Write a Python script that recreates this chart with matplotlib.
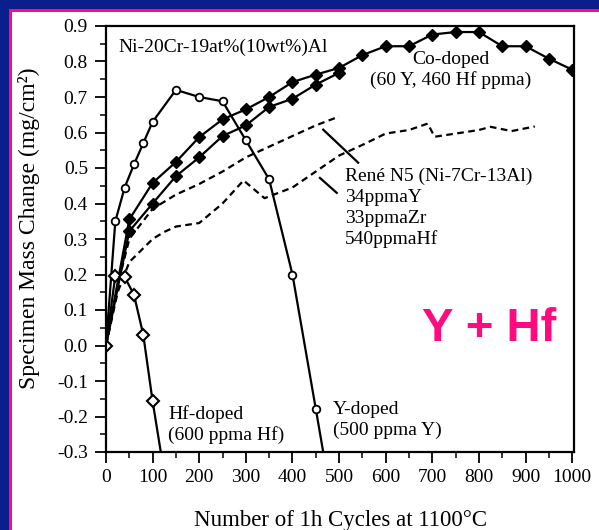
import matplotlib
matplotlib.use('Agg')
import matplotlib.pyplot as plt
from matplotlib.patches import Rectangle
from matplotlib.ticker import MultipleLocator

plt.rcParams['font.family'] = ['Liberation Serif', 'DejaVu Serif']

# Y-doped (open circles)
y_doped_x = [0, 20, 40, 60, 80, 100, 150, 200, 250, 300, 350, 400, 450, 500]
y_doped_y = [0, 0.35, 0.445, 0.51, 0.57, 0.63, 0.72, 0.70, 0.688, 0.578, 0.468, 0.20, -0.178, -0.56]

# Hf-doped (open diamonds)
hf_doped_x = [0, 20, 40, 60, 80, 100, 120]
hf_doped_y = [0, 0.197, 0.193, 0.143, 0.03, -0.157, -0.32]

# Co-doped, two specimens (filled diamonds)
co_a_x = [0, 50, 100, 150, 200, 250, 300, 350, 400, 450, 500, 550, 600, 650,
          700, 750, 800, 850, 900, 950, 1000]
co_a_y = [0, 0.355, 0.458, 0.517, 0.587, 0.637, 0.665, 0.70, 0.742, 0.763, 0.782,
          0.818, 0.843, 0.843, 0.876, 0.883, 0.883, 0.843, 0.843, 0.808, 0.777]
co_b_x = [0, 50, 100, 150, 200, 250, 300, 350, 400, 450, 500]
co_b_y = [0, 0.322, 0.40, 0.477, 0.53, 0.59, 0.62, 0.672, 0.695, 0.735, 0.768]

# Rene N5, two specimens (dashed)
rene_a_x = [0, 25, 50, 100, 150, 200, 250, 300, 350, 400, 450, 500]
rene_a_y = [0, 0.17, 0.30, 0.385, 0.425, 0.455, 0.49, 0.53, 0.56, 0.59, 0.62, 0.645]
rene_b_x = [0, 25, 50, 100, 125, 150, 200, 250, 295, 340, 400, 450, 500, 550, 600,
            650, 690, 705, 750, 800, 825, 870, 920]
rene_b_y = [0, 0.15, 0.235, 0.30, 0.32, 0.335, 0.345, 0.40, 0.465, 0.415, 0.445, 0.49,
            0.535, 0.565, 0.597, 0.607, 0.625, 0.588, 0.597, 0.607, 0.616, 0.604, 0.617]

# leader lines from the Rene N5 label to its two curves
leaders = [((466, 541), (0.608, 0.515)), ((459, 495), (0.472, 0.430))]

navy = '#0b1f8c'
pink = '#ff0a80'

fig = plt.figure(figsize=(5.99, 5.30), dpi=100)
fig.patch.set_facecolor(navy)
fig.add_artist(Rectangle((9 / 599, 0), 1, (530 - 9) / 530, transform=fig.transFigure,
                         facecolor=pink, edgecolor='none', zorder=0))
fig.add_artist(Rectangle((12 / 599, 0), 1, (530 - 12) / 530, transform=fig.transFigure,
                         facecolor='white', edgecolor='none', zorder=0))

ax = fig.add_axes([106 / 599, 78 / 530, 468 / 599, 426 / 530])
ax.set_facecolor('white')

lw = 1.6
ax.plot(rene_a_x, rene_a_y, color='black', lw=lw, ls=(0, (3, 2)))
ax.plot(rene_b_x, rene_b_y, color='black', lw=lw, ls=(0, (3, 2)))
ax.plot(co_b_x, co_b_y, color='black', lw=lw, marker='D', ms=6.5,
        markevery=slice(1, None))
ax.plot(co_a_x, co_a_y, color='black', lw=lw, marker='D', ms=6.5,
        markevery=slice(1, None))
ax.plot(y_doped_x, y_doped_y, color='black', lw=lw, marker='o', ms=5.5,
        mfc='white', mew=1.3, markevery=slice(1, None))
ax.plot(hf_doped_x, hf_doped_y, color='black', lw=lw, marker='D', ms=6,
        mfc='white', mew=1.5)
for lx, ly in leaders:
    ax.plot(lx, ly, color='black', lw=1.6)

ax.set_xlim(0, 1004)
ax.set_ylim(-0.3, 0.9)
ax.xaxis.set_major_locator(MultipleLocator(100))
ax.xaxis.set_minor_locator(MultipleLocator(50))
ax.yaxis.set_major_locator(MultipleLocator(0.1))
ax.yaxis.set_minor_locator(MultipleLocator(0.05))
ax.yaxis.set_major_formatter(plt.FuncFormatter(lambda v, p: f'{v:.1f}'))
ax.tick_params(which='major', direction='out', length=8, width=1.3, labelsize=14)
ax.tick_params(which='minor', direction='out', length=4, width=1.1)
ax.tick_params(axis='x', pad=4)
ax.tick_params(axis='y', pad=5)
for s in ax.spines.values():
    s.set_linewidth(1.6)

ax.set_xlabel('Number of 1h Cycles at 1100°C', fontsize=16.5)
ax.set_ylabel('Specimen Mass Change (mg/cm²)', fontsize=17)
ax.xaxis.set_label_coords(0.5, -0.135)
ax.yaxis.set_label_coords(-0.14, 0.525)

ax.text(26, 0.828, 'Ni-20Cr-19at%(10wt%)Al', fontsize=14, va='baseline')

def block(x, y, lines, ha='left'):
    for i, t in enumerate(lines):
        ax.annotate(t, xy=(x, y), xytext=(0, -i * 15), textcoords='offset points',
                    fontsize=14, ha=ha, va='baseline')

block(740, 0.792, ['Co-doped', '(60 Y, 460 Hf ppma)'], ha='center')
block(512, 0.463, ['René N5 (Ni-7Cr-13Al)', '34ppmaY', '33ppmaZr', '540ppmaHf'])
block(133, -0.206, ['Hf-doped', '(600 ppma Hf)'])
block(487, -0.194, ['Y-doped', '(500 ppma Y)'])

ax.text(678, 0.014, 'Y + Hf', fontsize=34, fontweight='bold', color=pink,
        family='Liberation Sans', va='baseline')

fig.savefig('out.png', dpi=100, facecolor=fig.get_facecolor())
